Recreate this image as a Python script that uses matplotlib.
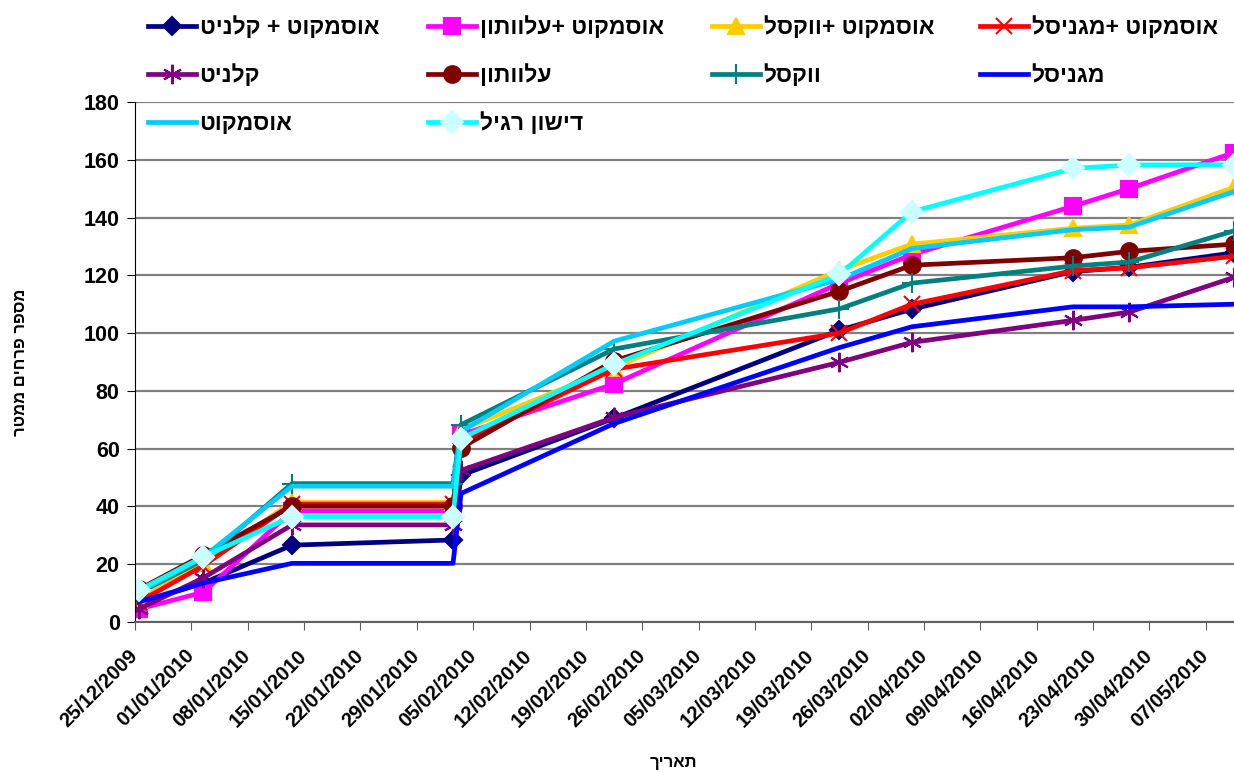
import matplotlib
matplotlib.use("Agg")
import matplotlib.pyplot as plt
import matplotlib.dates as mdates
from datetime import datetime, timedelta

plt.rcParams['font.family'] = ['Liberation Sans', 'DejaVu Sans']
plt.rcParams['font.weight'] = 'bold'


def heb(s):
    # no bidi in matplotlib -> feed hebrew in visual order
    return s[::-1]


# data
dates = ["25/12/2009", "02/01/2010", "13/01/2010", "02/02/2010", "03/02/2010",
         "22/02/2010", "22/03/2010", "31/03/2010", "20/04/2010", "27/04/2010",
         "10/05/2010"]

osm_kelanit = [6.5, 13.5, 26.6, 28.4, 50.8, 70.5, 101.0, 108.3, 121.3, 122.8, 127.8]
osm_alvaton = [4.5, 10.3, 38.4, 38.4, 64.8, 82.4, 117.2, 127.2, 143.9, 150.0, 162.5]
osm_voxel = [7.7, 20.5, 41.5, 41.5, 66.5, 88.0, 121.8, 130.8, 136.3, 137.4, 150.5]
osm_magnisal = [7.0, 19.5, 40.8, 40.8, 62.0, 87.5, 100.0, 110.0, 121.6, 122.6, 126.6]
kelanit = [4.5, 15.3, 33.6, 33.6, 52.5, 70.8, 89.9, 96.8, 104.4, 107.3, 119.3]
alvaton = [11.3, 23.2, 40.1, 40.1, 60.3, 90.4, 114.5, 123.5, 126.1, 128.3, 130.8]
voxel = [10.0, 21.5, 47.9, 47.9, 68.3, 94.5, 108.4, 117.3, 123.2, 124.6, 135.4]
magnisal = [7.0, 13.5, 20.3, 20.3, 44.5, 68.7, 95.0, 102.2, 109.1, 109.1, 110.0]
osmocote = [10.5, 22.5, 47.0, 47.0, 66.0, 97.2, 118.6, 129.3, 135.8, 136.7, 149.0]
regular = [11.0, 22.6, 36.5, 36.5, 63.5, 89.2, 120.3, 142.0, 157.0, 158.2, 158.3]

names = ["אוסמקוט + קלניט", "אוסמקוט +עלוותון", "אוסמקוט +ווקסל", "אוסמקוט +מגניסל",
         "קלניט", "עלוותון", "ווקסל", "מגניסל", "אוסמקוט", "דישון רגיל"]
values = [osm_kelanit, osm_alvaton, osm_voxel, osm_magnisal, kelanit,
          alvaton, voxel, magnisal, osmocote, regular]

# (line colour, marker, marker face, marker size)
styles = [
    ("#000080", "D", "#000080", 9),
    ("#FF00FF", "s", "#FF00FF", 11),
    ("#FFCC00", "^", "#FFCC00", 11),
    ("#FF0000", "x", "#FF0000", 11),
    ("#800080", (6, 2, 0), "#800080", 14),
    ("#800000", "o", "#800000", 12),
    ("#008080", "+", "#008080", 14),
    ("#0000FF", None, None, 0),
    ("#00CCFF", None, None, 0),
    ("#00FFFF", "D", "#CCFFFF", 11),
]

x = mdates.date2num([datetime.strptime(d, "%d/%m/%Y") for d in dates])

fig = plt.figure(figsize=(12.34, 7.72), dpi=100)
ax = fig.add_axes([135 / 1234, 1 - 622 / 772, 1 - 135 / 1234, (622 - 102) / 772])

lines = []
for name, vals, (col, mk, face, ms) in zip(names, values, styles):
    ln, = ax.plot(x, vals, color=col, lw=3.4, marker=mk, markersize=ms,
                  markerfacecolor=face, markeredgecolor=face if mk not in ("x", "+", (6, 2, 0)) else col,
                  markeredgewidth=1.5, label=heb(name), clip_on=True)
    lines.append(ln)

# axes
ax.set_ylim(0, 180)
ax.set_yticks(range(0, 181, 20))
ax.yaxis.grid(True, color="#808080", lw=1.6)
ax.set_axisbelow(True)

start = datetime(2009, 12, 25)
tick_dates = [start + timedelta(days=7 * i) for i in range(20)]
ax.set_xticks(mdates.date2num(tick_dates) - 0.5)
ax.set_xticklabels([d.strftime("%d/%m/%Y") for d in tick_dates], rotation=45,
                   ha="right", va="center", rotation_mode="anchor",
                   fontsize=14.5, fontweight="bold")
ax.set_xlim(x[0] - 0.5, x[-1])

for s in ["top", "right"]:
    ax.spines[s].set_visible(False)
ax.spines["left"].set_color("black")
ax.spines["bottom"].set_color("#606060")
ax.spines["bottom"].set_linewidth(1.5)
ax.tick_params(axis="y", direction="out", length=6, labelsize=15.5, pad=5)
ax.tick_params(axis="x", direction="out", length=6, color="#606060", pad=16)
for t in ax.get_yticklabels():
    t.set_fontweight("bold")

ax.set_xlabel(heb("תאריך"), fontsize=12, fontweight="bold")
ax.xaxis.set_label_coords(0.49, -0.255)
ax.set_ylabel(heb("מספר פרחים ממטר"), fontsize=12, fontweight="bold")
ax.yaxis.set_label_coords(-107 / 1099, 0.5)

# legend: Excel puts it row by row, so one legend per column
cols = [[0, 4, 8], [1, 5, 9], [2, 6], [3, 7]]
col_x = [148, 428, 712, 980]
for idx, cx in zip(cols, col_x):
    fig.legend([lines[i] for i in idx], [lines[i].get_label() for i in idx],
               loc="upper left", bbox_to_anchor=(cx / 1234, 1 - 16 / 772),
               frameon=False, handlelength=2.1, handletextpad=0.15,
               labelspacing=1.1, borderaxespad=0, borderpad=0,
               prop={"weight": "bold", "size": 16.5})

fig.savefig("out.png", dpi=100)
